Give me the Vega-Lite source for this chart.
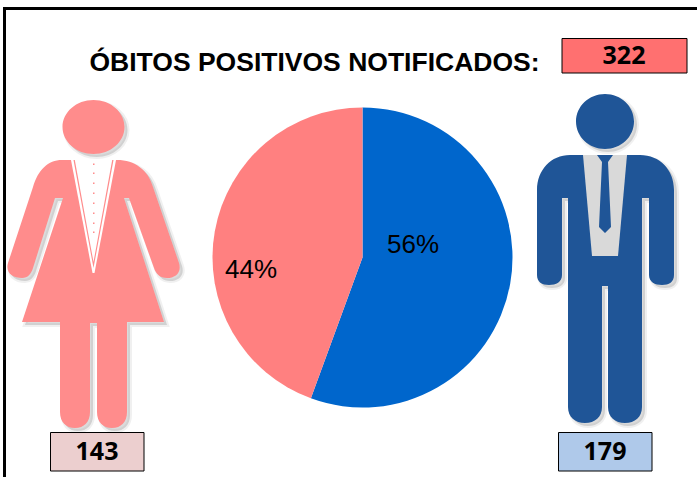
{
"$schema":"https://vega.github.io/schema/vega-lite/v6.json",
"width":697,"height":477,"padding":0,
"autosize":{"type":"none"},
"background":"white",
"config":{"view":{"stroke":null}},
"datasets":{
"obitos":[{"sexo":"Masculino","obitos":179,"pct":"56%"},{"sexo":"Feminino","obitos":143,"pct":"44%"}],
"mulher":[{"sexo":"Feminino","obitos":143}],
"homem":[{"sexo":"Masculino","obitos":179}],
"total":[{"titulo":"ÓBITOS POSITIVOS NOTIFICADOS:","obitos":322}]
},
"layer":[
{"data":{"name":"total"},"mark":{"type":"rule","color":"black","strokeWidth":3},
 "encoding":{"x":{"datum":3,"type":"quantitative","scale":{"domain":[0,697],"nice":false,"zero":false},"axis":null},"x2":{"datum":697},
 "y":{"datum":8.5,"type":"quantitative","scale":{"domain":[0,477],"reverse":true,"nice":false,"zero":false},"axis":null},"y2":{"datum":8.5}}},
{"data":{"name":"total"},"mark":{"type":"rule","color":"black","strokeWidth":3},
 "encoding":{"x":{"datum":4.5,"type":"quantitative"},"x2":{"datum":4.5},"y":{"datum":7,"type":"quantitative"},"y2":{"datum":477}}},
{"data":{"name":"total"},"mark":{"type":"text","font":"Liberation Sans","fontWeight":"bold","fontSize":26.5,"align":"center","baseline":"middle","color":"black"},
 "encoding":{"text":{"field":"titulo"},"x":{"datum":314.5,"type":"quantitative"},"y":{"datum":62.5,"type":"quantitative"}}},
{"data":{"name":"total"},"mark":{"type":"rect","fill":"#ff7070","stroke":"black","strokeWidth":1},
 "encoding":{"x":{"datum":562,"type":"quantitative"},"x2":{"datum":687},"y":{"datum":38.5,"type":"quantitative"},"y2":{"datum":73}}},
{"data":{"name":"total"},"mark":{"type":"text","font":"Open Sans","fontWeight":"bold","fontSize":25,"align":"center","baseline":"middle","color":"black"},
 "encoding":{"text":{"field":"obitos"},"x":{"datum":624,"type":"quantitative"},"y":{"datum":56,"type":"quantitative"}}},

{"data":{"name":"obitos"},"mark":{"type":"arc","radius":150},
 "encoding":{"theta":{"field":"obitos","type":"quantitative","stack":true},
 "order":{"field":"obitos","sort":"descending"},
 "color":{"field":"sexo","type":"nominal","legend":null,"scale":{"domain":["Masculino","Feminino"],"range":["#0066cc","#ff8080"]}},
 "x":{"datum":362.5,"type":"quantitative"},"y":{"datum":257.5,"type":"quantitative"}}},
{"data":{"name":"obitos"},"transform":[{"filter":"datum.sexo==='Masculino'"}],"mark":{"type":"text","font":"Liberation Sans","fontSize":26,"align":"center","baseline":"middle","color":"black"},
 "encoding":{"text":{"field":"pct"},"x":{"datum":413,"type":"quantitative"},"y":{"datum":245,"type":"quantitative"}}},
{"data":{"name":"obitos"},"transform":[{"filter":"datum.sexo==='Feminino'"}],"mark":{"type":"text","font":"Liberation Sans","fontSize":26,"align":"center","baseline":"middle","color":"black"},
 "encoding":{"text":{"field":"pct"},"x":{"datum":251,"type":"quantitative"},"y":{"datum":270,"type":"quantitative"}}},

{"data":{"name":"mulher"},"mark":{"type":"point","filled":true,"size":4,"fill":"#999999","fillOpacity":0.35,"stroke":"#999999","strokeOpacity":0.15,"strokeWidth":4,
 "shape":"M-22,-105 L-31,-105 C-45,-105 -55,-95 -60,-78 L-85,-2 C-88,8 -80,13 -71,13 C-65,13 -62,9 -60,3 L-38,-67 L-30,-67 L-71,57 L-33,57 L-33,147 C-33,157 -27,163 -18,163 C-9,163 -3,157 -3,147 L-3,58 L4,58 L4,147 C4,157 10,163 19,163 C28,163 34,157 34,147 L34,57 L71,57 L31,-67 L36,-67 L61,3 C63,9 67,13 74,13 C82,13 89,8 86,-2 L60,-78 C55,-95 42,-105 24,-105 Z M-30.5,-138 A31,27 0 1 1 31.5,-138 A31,27 0 1 1 -30.5,-138 Z"},
 "encoding":{"x":{"datum":96,"type":"quantitative"},"y":{"datum":268,"type":"quantitative"}}},
{"data":{"name":"mulher"},"mark":{"type":"point","filled":true,"size":4,"fill":"#ff8c8c","fillOpacity":1,"strokeWidth":0,
 "shape":"M-22,-105 L-31,-105 C-45,-105 -55,-95 -60,-78 L-85,-2 C-88,8 -80,13 -71,13 C-65,13 -62,9 -60,3 L-38,-67 L-30,-67 L-71,57 L-33,57 L-33,147 C-33,157 -27,163 -18,163 C-9,163 -3,157 -3,147 L-3,58 L4,58 L4,147 C4,157 10,163 19,163 C28,163 34,157 34,147 L34,57 L71,57 L31,-67 L36,-67 L61,3 C63,9 67,13 74,13 C82,13 89,8 86,-2 L60,-78 C55,-95 42,-105 24,-105 Z M-30.5,-138 A31,27 0 1 1 31.5,-138 A31,27 0 1 1 -30.5,-138 Z"},
 "encoding":{"x":{"datum":93,"type":"quantitative"},"y":{"datum":265,"type":"quantitative"}}},
{"data":{"name":"mulher"},"mark":{"type":"point","filled":true,"size":4,"fill":"white","fillOpacity":1,"strokeWidth":0,
 "shape":"M-22,-105 L23,-105 L1.5,8 L-0.5,8 Z"},
 "encoding":{"x":{"datum":93,"type":"quantitative"},"y":{"datum":265,"type":"quantitative"}}},
{"data":{"name":"mulher"},"mark":{"type":"point","filled":true,"size":4,"fill":"#ff8c8c","fillOpacity":1,"strokeWidth":0,
 "shape":"M-19.5,-105 L-18.2,-105 L0.5,-3 L19.2,-105 L20.5,-105 L0.5,3 Z M0,-101.5 h1.5 v1.5 h-1.5 Z M0,-92.5 h1.5 v1.5 h-1.5 Z M0,-82.5 h1.5 v1.5 h-1.5 Z M0,-72.5 h1.5 v1.5 h-1.5 Z M0,-62.5 h1.5 v1.5 h-1.5 Z M0,-52.5 h1.5 v1.5 h-1.5 Z M0,-42.5 h1.5 v1.5 h-1.5 Z M0,-33.5 h1.5 v1.5 h-1.5 Z"},
 "encoding":{"x":{"datum":93,"type":"quantitative"},"y":{"datum":265,"type":"quantitative"}}},

{"data":{"name":"homem"},"mark":{"type":"point","filled":true,"size":4,"fill":"#999999","fillOpacity":0.35,"stroke":"#999999","strokeOpacity":0.15,"strokeWidth":4,
 "shape":"M-36,-110 C-55,-110 -69,-95 -69,-75 L-69,10 C-69,17 -64,20 -57,20 C-50,20 -44,17 -44,10 L-44,-67 L-38,-67 L-38,142 C-38,152 -31,158 -21,158 C-11,158 -4,152 -4,142 L-4,21 L2,21 L2,142 C2,152 9,158 19,158 C29,158 36,152 36,142 L36,-67 L43,-67 L43,10 C43,17 49,20 56,20 C63,20 68,17 68,10 L68,-75 C68,-95 54,-110 34,-110 Z M-30,-143.5 A29,27.5 0 1 1 28,-143.5 A29,27.5 0 1 1 -30,-143.5 Z"},
 "encoding":{"x":{"datum":609,"type":"quantitative"},"y":{"datum":268,"type":"quantitative"}}},
{"data":{"name":"homem"},"mark":{"type":"point","filled":true,"size":4,"fill":"#1f5597","fillOpacity":1,"strokeWidth":0,
 "shape":"M-36,-110 C-55,-110 -69,-95 -69,-75 L-69,10 C-69,17 -64,20 -57,20 C-50,20 -44,17 -44,10 L-44,-67 L-38,-67 L-38,142 C-38,152 -31,158 -21,158 C-11,158 -4,152 -4,142 L-4,21 L2,21 L2,142 C2,152 9,158 19,158 C29,158 36,152 36,142 L36,-67 L43,-67 L43,10 C43,17 49,20 56,20 C63,20 68,17 68,10 L68,-75 C68,-95 54,-110 34,-110 Z M-30,-143.5 A29,27.5 0 1 1 28,-143.5 A29,27.5 0 1 1 -30,-143.5 Z"},
 "encoding":{"x":{"datum":606,"type":"quantitative"},"y":{"datum":265,"type":"quantitative"}}},
{"data":{"name":"homem"},"mark":{"type":"point","filled":true,"size":4,"fill":"#d9d9d9","fillOpacity":1,"strokeWidth":0,
 "shape":"M-23,-110 L21,-110 L12,-9 L-14,-9 Z"},
 "encoding":{"x":{"datum":606,"type":"quantitative"},"y":{"datum":265,"type":"quantitative"}}},
{"data":{"name":"homem"},"mark":{"type":"point","filled":true,"size":4,"fill":"#1f5597","fillOpacity":1,"strokeWidth":0,
 "shape":"M-9,-110 L7,-110 L2,-103 L5,-38 L-1,-32 L-7,-38 L-4,-103 Z"},
 "encoding":{"x":{"datum":606,"type":"quantitative"},"y":{"datum":265,"type":"quantitative"}}},

{"data":{"name":"mulher"},"mark":{"type":"rect","fill":"#eccfcf","stroke":"black","strokeWidth":1},
 "encoding":{"x":{"datum":50.5,"type":"quantitative"},"x2":{"datum":144},"y":{"datum":432.5,"type":"quantitative"},"y2":{"datum":471}}},
{"data":{"name":"mulher"},"mark":{"type":"text","font":"Open Sans","fontWeight":"bold","fontSize":25,"align":"center","baseline":"middle","color":"black"},
 "encoding":{"text":{"field":"obitos"},"x":{"datum":97,"type":"quantitative"},"y":{"datum":452,"type":"quantitative"}}},
{"data":{"name":"homem"},"mark":{"type":"rect","fill":"#afc9ea","stroke":"black","strokeWidth":1},
 "encoding":{"x":{"datum":558.5,"type":"quantitative"},"x2":{"datum":652},"y":{"datum":432.5,"type":"quantitative"},"y2":{"datum":471}}},
{"data":{"name":"homem"},"mark":{"type":"text","font":"Open Sans","fontWeight":"bold","fontSize":25,"align":"center","baseline":"middle","color":"black"},
 "encoding":{"text":{"field":"obitos"},"x":{"datum":605,"type":"quantitative"},"y":{"datum":452,"type":"quantitative"}}}
]
}
